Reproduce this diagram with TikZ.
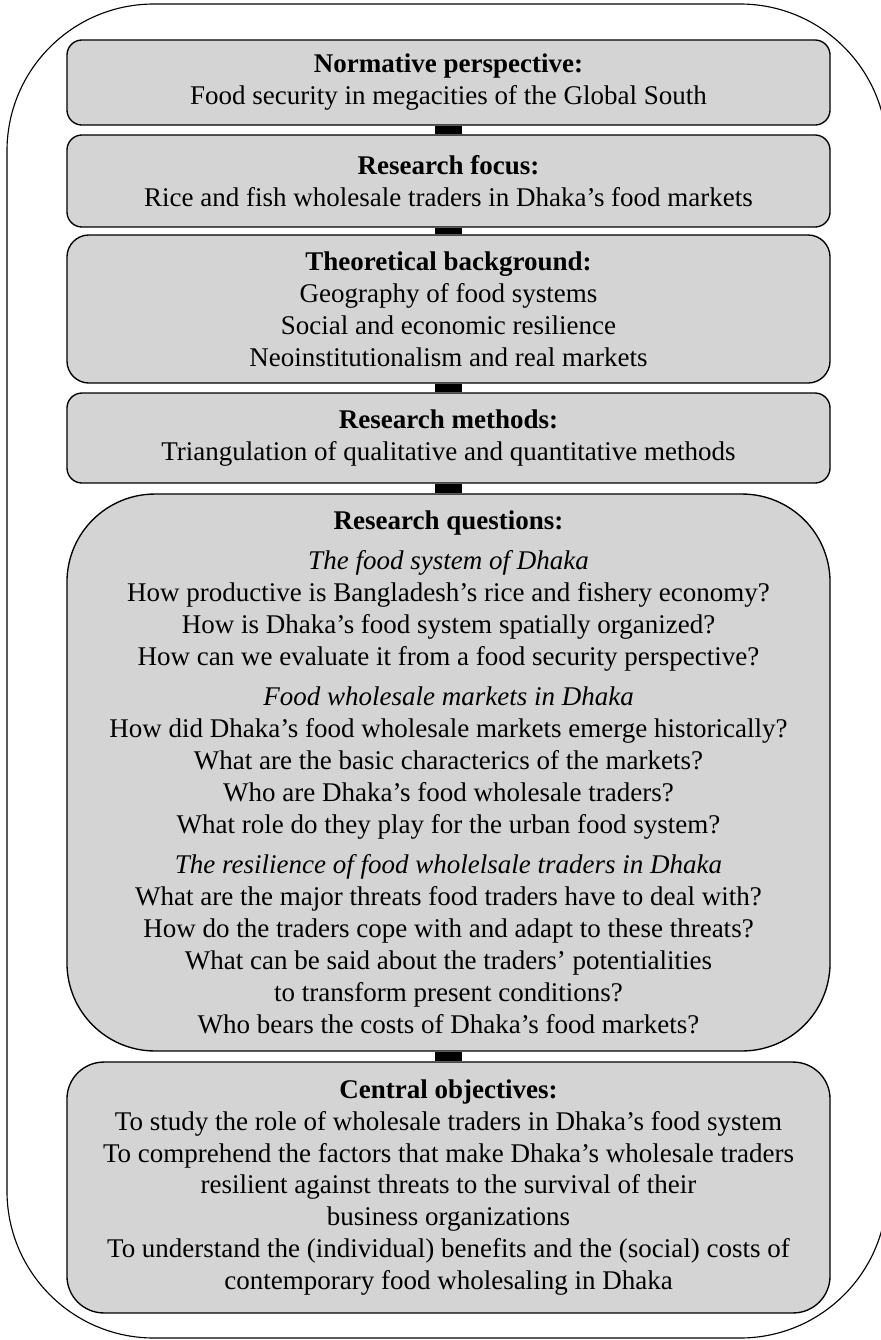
\documentclass[tikz,border=0pt]{standalone}
\usepackage{fontspec}
\setmainfont{Liberation Serif}
\usepackage{xcolor}
\definecolor{boxgray}{RGB}{212,212,212}
\newcommand{\qgap}{\\[3.6pt]}

\tikzset{
  stage/.style={draw, fill=boxgray, line width=0.6pt, rounded corners=6.7pt,
    align=center, minimum width=339.1pt, inner sep=0pt,
    font=\fontsize{12}{14.2}\selectfont},
  link/.style={line width=11.6pt}
}

\begin{document}
\begin{tikzpicture}[x=0.4444pt, y=-0.4444pt]
\useasboundingbox (0,0) rectangle (881,1340);
\draw[line width=0.5pt, rounded corners=65.3pt] (7,4) rectangle (887,1338); % outer frame
\node[stage, minimum height=37.8pt] (norm) at (448.5,82.5)
  {\textbf{Normative perspective:}\\ Food security in megacities of the Global South};
\node[stage, minimum height=40.9pt] (focus) at (448.5,181)
  {\textbf{Research focus:}\\ Rice and fish wholesale traders in Dhaka’s food markets};
\node[stage, minimum height=65.8pt, rounded corners=9.8pt] (theory) at (448.5,309)
  {\textbf{Theoretical background:}\\ Geography of food systems\\
   Social and economic resilience\\ Neoinstitutionalism and real markets};
\node[stage, minimum height=40pt] (methods) at (448.5,438)
  {\textbf{Research methods:}\\ Triangulation of qualitative and quantitative methods};
\node[stage, minimum height=247.5pt, rounded corners=39.1pt] (questions) at (448.5,772.5)
  {\textbf{Research questions:}\qgap
   \textit{The food system of Dhaka}\\
   How productive is Bangladesh’s rice and fishery economy?\\
   How is Dhaka’s food system spatially organized?\\
   How can we evaluate it from a food security perspective?\qgap
   \textit{Food wholesale markets in Dhaka}\\
   How did Dhaka’s food wholesale markets emerge historically?\\
   What are the basic characterics of the markets?\\
   Who are Dhaka’s food wholesale traders?\\
   What role do they play for the urban food system?\qgap
   \textit{The resilience of food wholelsale traders in Dhaka}\\
   What are the major threats food traders have to deal with?\\
   How do the traders cope with and adapt to these threats?\\
   What can be said about the traders’ potentialities\\
   to transform present conditions?\\
   Who bears the costs of Dhaka’s food markets?};
\node[stage, minimum height=111.5pt, rounded corners=16.4pt] (goals) at (448.5,1187.5)
  {\textbf{Central objectives:}\\
   To study the role of wholesale traders in Dhaka’s food system\\
   To comprehend the factors that make Dhaka’s wholesale traders\\
   resilient against threats to the survival of their\\
   business organizations\\
   To understand the (individual) benefits and the (social) costs of\\
   contemporary food wholesaling in Dhaka};
% links between the stages
\draw[link] (norm.south) -- (focus.north);
\draw[link] (focus.south) -- (theory.north);
\draw[link] (theory.south) -- (methods.north);
\draw[link] (methods.south) -- (questions.north);
\draw[link] (questions.south) -- (goals.north);
\end{tikzpicture}
\end{document}
